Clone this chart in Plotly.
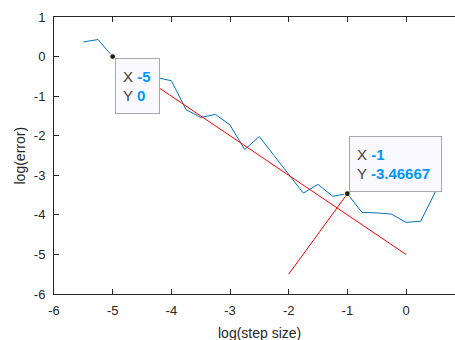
import plotly.graph_objects as go

# Measured data (blue curve)
log_h = [-5.5, -5.25, -5.0, -4.75, -4.5, -4.25, -4.0, -3.75, -3.5, -3.25, -3.0,
         -2.75, -2.5, -2.25, -2.0, -1.75, -1.5, -1.25, -1.0, -0.75, -0.5, -0.25,
         0.0, 0.25, 0.5, 0.6]
log_err = [0.37, 0.43, 0.0, -0.28, -0.45, -0.53, -0.61, -1.34, -1.54, -1.46, -1.73,
           -2.35, -2.02, -2.50, -2.97, -3.45, -3.23, -3.53, -3.46667, -3.94, -3.95, -3.98,
           -4.19, -4.16, -3.42, -3.22]

# Reference lines (red)
ref1_x = [-5, 0]
ref1_y = [0, -5]
ref2_x = [-2, -1]
ref2_y = [-5.5, -3.46667]

# Data tips
tip_x = [-5, -1]
tip_y = [0, -3.46667]
tip_labels = ["-5", "0", "-1", "-3.46667"]

x_ticks = [-6, -5, -4, -3, -2, -1, 0]
y_ticks = [-6, -5, -4, -3, -2, -1, 0, 1]

AX = "#262626"
FONT = "Liberation Sans, Arial, sans-serif"

fig = go.Figure()
fig.add_trace(go.Scatter(x=log_h, y=log_err, mode="lines",
                         line=dict(color="#0072BD", width=1), hoverinfo="skip"))
fig.add_trace(go.Scatter(x=ref1_x, y=ref1_y, mode="lines",
                         line=dict(color="#ff0000", width=1), hoverinfo="skip"))
fig.add_trace(go.Scatter(x=ref2_x, y=ref2_y, mode="lines",
                         line=dict(color="#ff0000", width=1), hoverinfo="skip"))
fig.add_trace(go.Scatter(x=tip_x, y=tip_y, mode="markers",
                         marker=dict(color="#1a1a1a", size=6,
                                     line=dict(color="#fffbd0", width=1.2)),
                         hoverinfo="skip"))

def tip_text(xv, yv):
    c = "#0096ff"
    return (f"X <b><span style='color:{c}'>{xv}</span></b><br>"
            f"Y <b><span style='color:{c}'>{yv}</span></b>")

fig.add_annotation(x=tip_x[0], y=tip_y[0], xref="x", yref="y",
                   text=tip_text(tip_labels[0], tip_labels[1]),
                   showarrow=False, xanchor="left", yanchor="top",
                   xshift=2, yshift=-1, align="left", valign="middle",
                   width=29, height=40, borderpad=7,
                   bgcolor="#f9f9ff", bordercolor="#a8a8a8", borderwidth=1,
                   font=dict(family=FONT, size=15, color="#404040"))
fig.add_annotation(x=tip_x[1], y=tip_y[1], xref="x", yref="y",
                   text=tip_text(tip_labels[2], tip_labels[3]),
                   showarrow=False, xanchor="left", yanchor="bottom",
                   xshift=2, yshift=2, align="left", valign="middle",
                   width=77, height=40, borderpad=7,
                   bgcolor="#f9f9ff", bordercolor="#a8a8a8", borderwidth=1,
                   font=dict(family=FONT, size=15, color="#404040"))

# x-axis title centered on the full (cropped) axes
fig.add_annotation(x=-2.5, y=0, xref="x", yref="paper", yshift=-29,
                   text="log(step size)", showarrow=False,
                   xanchor="center", yanchor="top",
                   font=dict(family=FONT, size=14, color=AX))
# y-axis title
fig.add_annotation(x=0, y=0.5, xref="paper", yref="paper", xshift=-35,
                   text="log(error)", showarrow=False, textangle=-90,
                   xanchor="center", yanchor="middle",
                   font=dict(family=FONT, size=14, color=AX))

fig.update_xaxes(range=[-6, 0.835], tickvals=x_ticks, ticktext=[str(v) for v in x_ticks],
                 showgrid=False, zeroline=False, showline=True, linecolor=AX,
                 linewidth=1, mirror="ticks", ticks="inside", ticklen=5,
                 tickcolor=AX, tickwidth=1, ticklabelstandoff=4,
                 tickfont=dict(family=FONT, size=13, color=AX))
fig.update_yaxes(range=[-6, 1], tickvals=y_ticks, ticktext=[str(v) for v in y_ticks],
                 showgrid=False, zeroline=False, showline=True, linecolor=AX,
                 linewidth=1, mirror=False, ticks="inside", ticklen=5,
                 tickcolor=AX, tickwidth=1, ticklabelstandoff=5,
                 tickfont=dict(family=FONT, size=13, color=AX))

fig.update_layout(width=455, height=340, margin=dict(l=54, r=0, t=17, b=46),
                  plot_bgcolor="white", paper_bgcolor="white", showlegend=False)

fig.write_html("out.html")
